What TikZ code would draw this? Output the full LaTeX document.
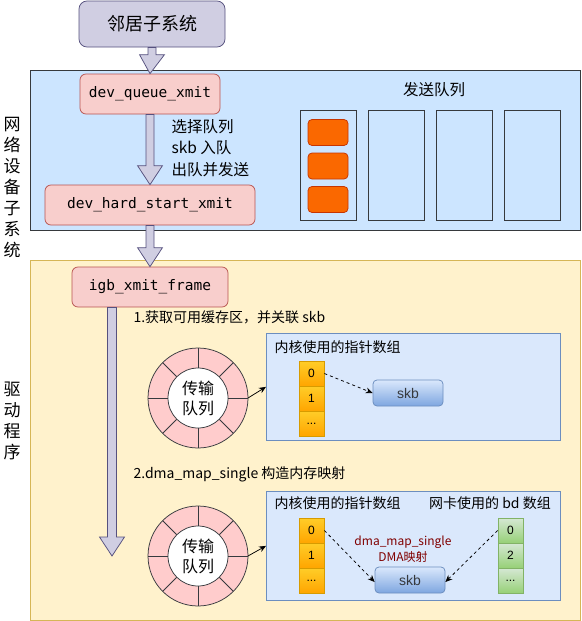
\documentclass[tikz,border=0pt]{standalone}
\usepackage{fontspec}
\setmainfont{Liberation Sans}
\newfontfamily\cjk{Noto Sans CJK SC}
\newfontfamily\codefont{DejaVu Sans Mono}
\usetikzlibrary{arrows.meta,positioning,calc}

\definecolor{lavfill}{RGB}{208,206,226}
\definecolor{lavline}{RGB}{86,81,126}
\definecolor{netfill}{RGB}{204,229,255}
\definecolor{darkline}{RGB}{54,57,61}
\definecolor{redfill}{RGB}{248,206,204}
\definecolor{redline}{RGB}{184,84,80}
\definecolor{drvfill}{RGB}{255,242,204}
\definecolor{drvline}{RGB}{214,182,86}
\definecolor{arrfill}{RGB}{218,232,252}
\definecolor{arrline}{RGB}{108,142,191}
\definecolor{skbbot}{RGB}{126,166,224}
\definecolor{pktfill}{RGB}{250,104,0}
\definecolor{pktline}{RGB}{199,53,0}
\definecolor{orgtop}{RGB}{255,205,40}
\definecolor{orgbot}{RGB}{255,165,0}
\definecolor{orgline}{RGB}{215,155,0}
\definecolor{grntop}{RGB}{213,232,212}
\definecolor{grnbot}{RGB}{151,208,119}
\definecolor{grnline}{RGB}{130,179,102}
\definecolor{ringfill}{RGB}{255,204,204}
\definecolor{dmatext}{RGB}{128,0,0}

\tikzset{
  funcbox/.style={draw=redline, fill=redfill, rounded corners=6pt, line width=0.75pt,
    minimum height=40pt, inner sep=0pt, font=\codefont\fontsize{14.5}{16}\selectfont},
  region/.style={line width=0.75pt},
  qslot/.style={draw=darkline, line width=0.75pt, minimum width=56pt, minimum height=110pt, inner sep=0pt},
  pkt/.style={draw=pktline, fill=pktfill, rounded corners=4pt, line width=0.75pt,
    minimum width=40pt, minimum height=26pt, inner sep=0pt},
  orgcell/.style={draw=orgline, top color=orgtop, bottom color=orgbot, line width=0.75pt,
    minimum width=25pt, minimum height=25pt, inner sep=0pt, font=\fontsize{12}{14}\selectfont},
  grncell/.style={draw=grnline, top color=grntop, bottom color=grnbot, line width=0.75pt,
    minimum width=25pt, minimum height=25pt, inner sep=0pt, font=\fontsize{12}{14}\selectfont},
  skbbox/.style={draw=arrline, top color=arrfill, bottom color=skbbot, rounded corners=4pt,
    line width=0.75pt, minimum width=70pt, minimum height=26pt, inner sep=0pt,
    font=\fontsize{14}{16}\selectfont, text=darkline},
  blk/.style={draw=lavline, fill=lavfill, line width=0.75pt, line join=miter},
  dasharrow/.style={dashed, line width=0.75pt, -{Stealth[length=7pt,width=6pt]}},
  ringarrow/.style={line width=0.75pt, -{Stealth[length=7pt,width=6pt]}},
  sidelabel/.style={align=center, font=\cjk\fontsize{17}{21}\selectfont},
  cjktext/.style={font=\cjk\fontsize{14}{16}\selectfont}
}

% block arrow pointing down from #2 to #3
\newcommand{\blkarrow}[3][4pt]{%
  \draw[blk] let \p1=(#2), \p2=(#3) in
    (\x1-#1,\y1) -- (\x1-#1,\y2-19pt) -- (\x1-12.5pt,\y2-19pt) -- (\x2,\y2)
    -- (\x1+12.5pt,\y2-19pt) -- (\x1+#1,\y2-19pt) -- (\x1+#1,\y1) -- cycle;}

% ring buffer with 8 slots
\newcommand{\ringbuf}[2]{%
  \draw[darkline, fill=ringfill, line width=0.75pt] (#2) circle (50pt);
  \foreach \a in {0,45,...,315}
    \draw[darkline, line width=0.75pt] ($(#2)+(\a:30pt)$) -- ($(#2)+(\a:50pt)$);
  \node[circle, draw=darkline, fill=white, line width=0.75pt, minimum size=60pt, inner sep=0pt,
    align=center, font=\cjk\fontsize{16}{20}\selectfont] (#1in) at (#2) {传输\\队列};
  \path (#2) ++(50pt,0) coordinate (#1);}

\begin{document}
\begin{tikzpicture}[x=1pt,y=1pt,yscale=-1,xscale=1]
\useasboundingbox (0,0) rectangle (581,621);

%Shape: Rectangle (network subsystem)
\draw[region, draw=darkline, fill=netfill] (30,70) rectangle (580,230);
%Shape: Rectangle (driver)
\draw[region, draw=drvline, fill=drvfill] (30,260) rectangle (580,620);

% Side labels
\node[sidelabel] (netlabel) at (12,187.5) {网\\络\\设\\备\\子\\系\\统};
\node[sidelabel] (drvlabel) at (12,421) {驱\\动\\程\\序};

%Shape: Rounded Rect
\node[draw=lavline, fill=lavfill, rounded corners=8pt, line width=0.75pt, minimum width=146pt,
  minimum height=46pt, inner sep=0pt, font=\cjk\fontsize{18}{20}\selectfont] (nbr) at (152,24) {邻居子系统};

\node[funcbox, minimum width=140pt] (dqx) at (150,94) {dev\_queue\_xmit};
\node[funcbox, minimum width=210pt] (dhsx) at (150,205) {dev\_hard\_start\_xmit};
\node[funcbox, minimum width=156pt] (igb) at (150,287) {igb\_xmit\_frame};

% Text Node
\node[anchor=west, align=left, font=\cjk\fontsize{15.5}{21.5}\selectfont] (qsteps) at (168,148)
  {选择队列\\skb 入队\\出队并发送};

% send queue
\node[font=\cjk\fontsize{15.5}{18}\selectfont] (sqtitle) at (434,90) {发送队列};
\foreach \i in {1,...,4}
  \node[qslot, anchor=north west] (q\i) at (300+68*\i-68,110) {};
\foreach \i/\y in {1/132.5,2/166,3/199.5}
  \node[pkt] (pkt\i) at (328,\y) {};

% block arrows
\blkarrow{nbr.south}{dqx.north}
\blkarrow{dqx.south}{dhsx.north}
\blkarrow{dhsx.south}{igb.north}
\coordinate (drvend) at (112,556);
\blkarrow[4.5pt]{igb.south -| drvend}{drvend}

%%% step 1
\node[anchor=west, cjktext] (step1) at (130,317) {1.获取可用缓存区，并关联 skb};
\ringbuf{ring1}{198,398}
\node[draw=arrline, fill=arrfill, line width=0.75pt, minimum width=294pt, minimum height=107pt,
  inner sep=0pt, anchor=north west] (box1) at (266,333) {};
\node[anchor=west, cjktext] (box1title) at (271,347) {内核使用的指针数组};
\node[orgcell] (a1c0) at (311.5,373.5) {0};
\node[orgcell, below=-0.75pt of a1c0] (a1c1) {1};
\node[orgcell, below=-0.75pt of a1c1] (a1c2) {...};
\node[skbbox] (skb1) at (408,393) {skb};
\draw[ringarrow] (ring1) -- (box1.west);
\draw[dasharrow] (a1c0.east) -- (skb1.west);

%%% step 2
\node[anchor=west, cjktext] (step2) at (130,474) {2.dma\_map\_single 构造内存映射};
\ringbuf{ring2}{198,556}
\node[draw=arrline, fill=arrfill, line width=0.75pt, minimum width=294pt, minimum height=109pt,
  inner sep=0pt, anchor=north west] (box2) at (266,491) {};
\node[anchor=west, cjktext] (box2title) at (271,503) {内核使用的指针数组};
\node[cjktext] (bdtitle) at (490,503) {网卡使用的 bd 数组};
\node[orgcell] (a2c0) at (311.5,530.5) {0};
\node[orgcell, below=-0.75pt of a2c0] (a2c1) {1};
\node[orgcell, below=-0.75pt of a2c1] (a2c2) {...};
\node[grncell] (b2c0) at (510.5,530.5) {0};
\node[grncell, below=-0.75pt of b2c0] (b2c1) {2};
\node[grncell, below=-0.75pt of b2c1] (b2c2) {...};
\node[skbbox] (skb2) at (410,580) {skb};
\node[align=center, text=dmatext, font=\cjk\fontsize{12}{16}\selectfont] (dmalabel) at (403,549)
  {dma\_map\_single\\DMA映射};
\draw[ringarrow] (ring2) -- (box2.west);
\draw[dasharrow] (a2c0.east) -- ([yshift=2pt]skb2.west);
\draw[dasharrow] (b2c0.west) -- ([yshift=2pt]skb2.east);

\end{tikzpicture}
\end{document}
